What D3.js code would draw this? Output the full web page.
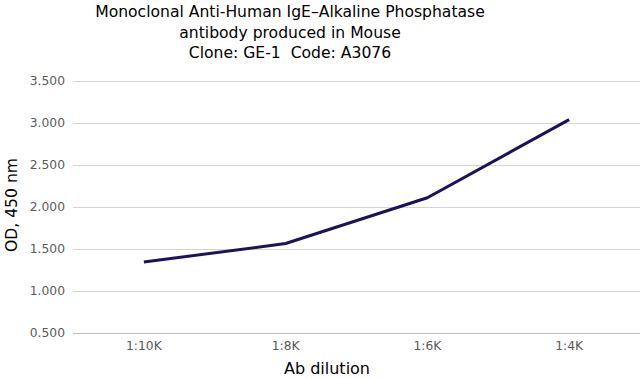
<!DOCTYPE html>
<html>
<head>
<meta charset="utf-8">
<script src="https://cdn.jsdelivr.net/npm/d3@7"></script>
<style>
  body { margin: 0; background: #fff; }
  text { font-family: "DejaVu Sans", sans-serif; white-space: pre; }
</style>
</head>
<body>
<div id="chart"></div>
<script>
var dilutions = ["1:10K", "1:8K", "1:6K", "1:4K"];
var odValues = [1.345, 1.565, 2.11, 3.04];
var yTicks = [0.5, 1.0, 1.5, 2.0, 2.5, 3.0, 3.5];
var titleLines = [
  "Monoclonal Anti-Human IgE\u2013Alkaline Phosphatase",
  "antibody produced in Mouse",
  "Clone: GE-1  Code: A3076"
];

var w = 640, h = 379;
var margin = { top: 81, right: 0, bottom: 46, left: 73 };

var svg = d3.select("#chart")
  .append("svg")
  .attr("width", w)
  .attr("height", h);

var xScale = d3.scaleBand()
  .domain(dilutions)
  .range([margin.left, w - margin.right]);

var yScale = d3.scaleLinear()
  .domain([0.5, 3.5])
  .range([h - margin.bottom, margin.top]);

// gridlines
svg.append("g")
  .selectAll("line")
  .data(yTicks)
  .enter()
  .append("line")
  .attr("x1", margin.left)
  .attr("x2", w - margin.right)
  .attr("y1", function(d) { return Math.round(yScale(d)) + 0.5; })
  .attr("y2", function(d) { return Math.round(yScale(d)) + 0.5; })
  .attr("stroke", function(d) { return d === 0.5 ? "#bdbdbd" : "#d4d4d4"; })
  .attr("stroke-width", 1.2);

// y tick labels
svg.append("g")
  .selectAll("text")
  .data(yTicks)
  .enter()
  .append("text")
  .attr("x", 65)
  .attr("y", function(d) { return yScale(d); })
  .attr("dy", "0.35em")
  .attr("text-anchor", "end")
  .attr("font-size", "12.3px")
  .attr("fill", "#595959")
  .text(function(d) { return d3.format(".3f")(d); });

// x tick labels
svg.append("g")
  .selectAll("text")
  .data(dilutions)
  .enter()
  .append("text")
  .attr("x", function(d) { return xScale(d) + xScale.bandwidth() / 2; })
  .attr("y", h - margin.bottom + 17)
  .attr("text-anchor", "middle")
  .attr("font-size", "12.3px")
  .attr("fill", "#595959")
  .text(function(d) { return d; });

// the line
var line = d3.line()
  .x(function(d, i) { return xScale(dilutions[i]) + xScale.bandwidth() / 2; })
  .y(function(d) { return yScale(d); });

svg.append("path")
  .datum(odValues)
  .attr("d", line)
  .attr("fill", "none")
  .attr("stroke", "#1c1259")
  .attr("stroke-width", 3)
  .attr("stroke-linejoin", "round");

// title
svg.append("g")
  .selectAll("text")
  .data(titleLines)
  .enter()
  .append("text")
  .attr("x", 290)
  .attr("y", function(d, i) { return 17 + i * 20.5; })
  .attr("text-anchor", "middle")
  .attr("font-size", "15.6px")
  .attr("fill", "#000")
  .text(function(d) { return d; });

// axis titles
svg.append("text")
  .attr("x", 327)
  .attr("y", 374)
  .attr("text-anchor", "middle")
  .attr("font-size", "16px")
  .attr("fill", "#000")
  .text("Ab dilution");

svg.append("text")
  .attr("transform", "translate(17,205) rotate(-90)")
  .attr("text-anchor", "middle")
  .attr("font-size", "15.6px")
  .attr("fill", "#000")
  .text("OD, 450 nm");
</script>
</body>
</html>
